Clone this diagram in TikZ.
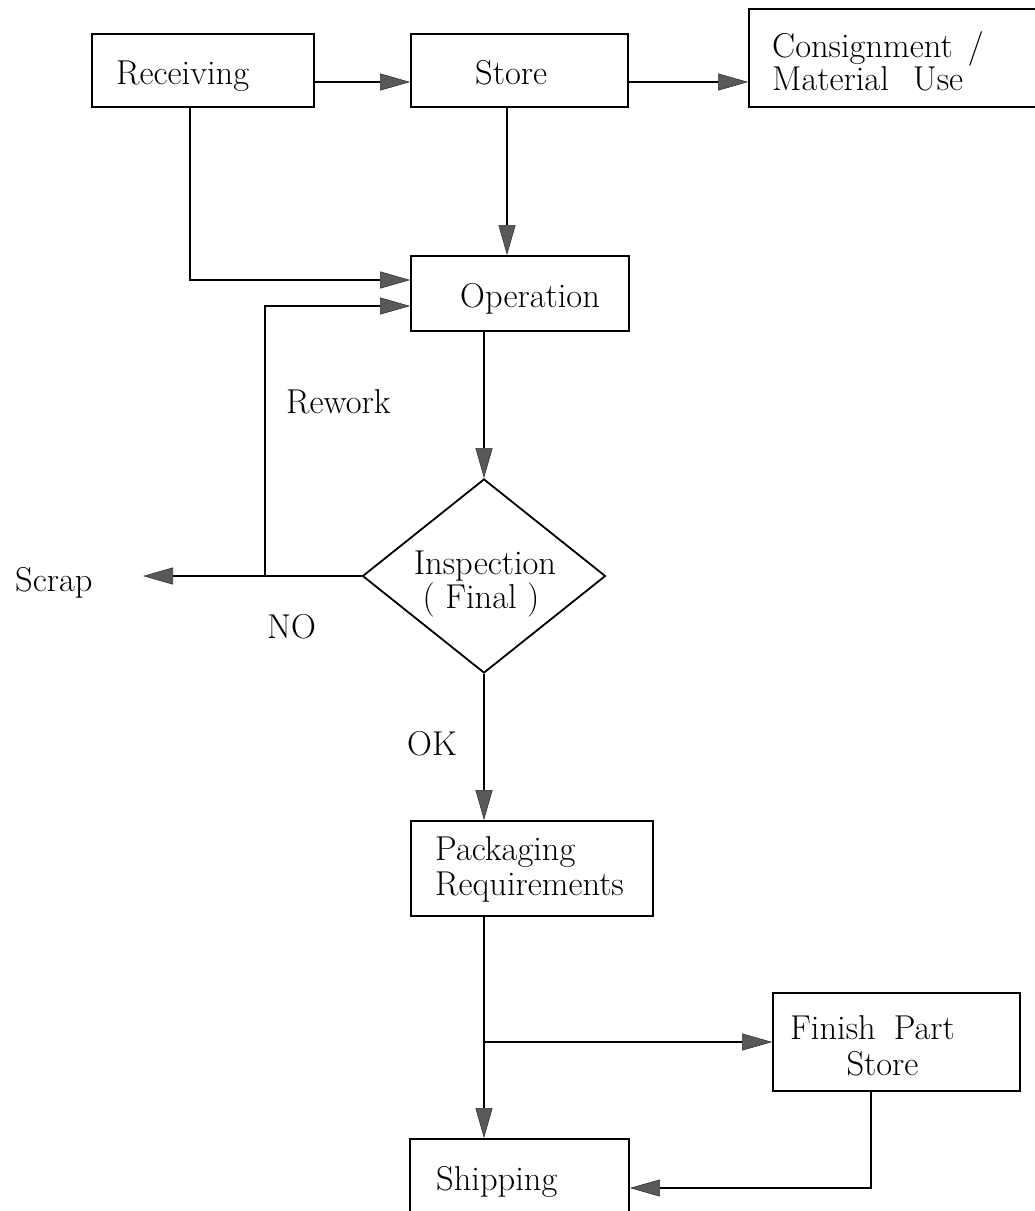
\documentclass[tikz,border=0pt]{standalone}
\usetikzlibrary{arrows.meta,shapes.geometric}
\begin{document}
\begin{tikzpicture}[x=1pt,y=-1pt,
  box/.style={draw, line width=1.8pt, inner sep=0pt},
  dia/.style={draw, diamond, line width=1.8pt, inner sep=0pt},
  txt/.style={font=\fontsize{34.5}{35}\selectfont, inner sep=0pt, anchor=base west},
  txtc/.style={font=\fontsize{34.5}{35}\selectfont, inner sep=0pt, anchor=base},
  arr/.style={line width=1.8pt,
    -{Triangle[length=30pt,width=17pt,fill=black!65,color=black!80,line width=0.6pt]}}]
\useasboundingbox (0,0) rectangle (1035,1211);
\clip (0,0) rectangle (1035,1211);

% process boxes and the decision
\node[box, minimum width=222pt, minimum height=73pt] (rec) at (203,70.5) {};
\node[box, minimum width=217pt, minimum height=73pt] (sto) at (519.5,70.5) {};
\node[box, minimum width=296pt, minimum height=98pt] (con) at (897,58) {};
\node[box, minimum width=218pt, minimum height=75pt] (ope) at (520,293.5) {};
\node[dia, minimum width=243pt, minimum height=194pt] (ins) at (484,576) {};
\node[box, minimum width=242pt, minimum height=95pt] (pac) at (532,868.5) {};
\node[box, minimum width=247pt, minimum height=98pt] (fin) at (896.5,1042) {};
\node[box, minimum width=219pt, minimum height=80pt] (shi) at (519.5,1179) {};

% texts inside the shapes
\node[txt] (rec-t) at (116,84) {Receiving};
\node[txt] (sto-t) at (475,84) {Store};
\node[txt] (con-t1) at (772,57) {Consignment\hspace{15pt}/};
\node[txt] (con-t2) at (772,90) {Material\hspace{24pt}Use};
\node[txt] (ope-t) at (460,307) {Operation};
\node[txtc] (ins-t1) at (485,574) {Inspection};
\node[txtc] (ins-t2) at (481,608) {( Final )};
\node[txt] (pac-t1) at (435,860) {Packaging};
\node[txt] (pac-t2) at (435,895) {Requirements};
\node[txt] (fin-t1) at (790,1039) {Finish\hspace{18pt}Part};
\node[txtc] (fin-t2) at (882.5,1075) {Store};
\node[txt] (shi-t) at (436,1190) {Shipping};

% free labels
\node[txt] (rw-t) at (286,413) {Rework};
\node[txt] (scr-t) at (15,591) {Scrap};
\node[txt] (no-t) at (267,638) {NO};
\node[txt] (ok-t) at (407,755) {OK};

% connector end points
\coordinate (scr) at (143,576);
\coordinate (rw) at (265,576);
\coordinate (br) at (ins.south |- fin.west);

% connectors
\draw[arr] ([yshift=-11.5pt]rec.east) -- ([yshift=-11.5pt]sto.west);
\draw[arr] ([yshift=-11.5pt]sto.east) -- ([yshift=-11.5pt]sto.east -| con.west);
\draw[arr] ([xshift=-13pt]rec.south) |- ([yshift=13.5pt]ope.west);
\draw[arr] ([xshift=-12.5pt]sto.south) -- ([xshift=-12.5pt]sto.south |- ope.north);
\draw[arr] (ope.south -| ins.north) -- (ins.north);
\draw[arr] (ins.west) -- (scr);
\draw[arr] (rw) |- ([yshift=-12.5pt]ope.west);
\draw[arr] (ins.south) -- (ins.south |- pac.north);
\draw[arr] (ins.south |- pac.south) -- (ins.south |- shi.north);
\draw[arr] (br) -- (fin.west);
\draw[arr] ([xshift=-25.5pt]fin.south) |- ([yshift=-9pt]shi.east);
\end{tikzpicture}
\end{document}
